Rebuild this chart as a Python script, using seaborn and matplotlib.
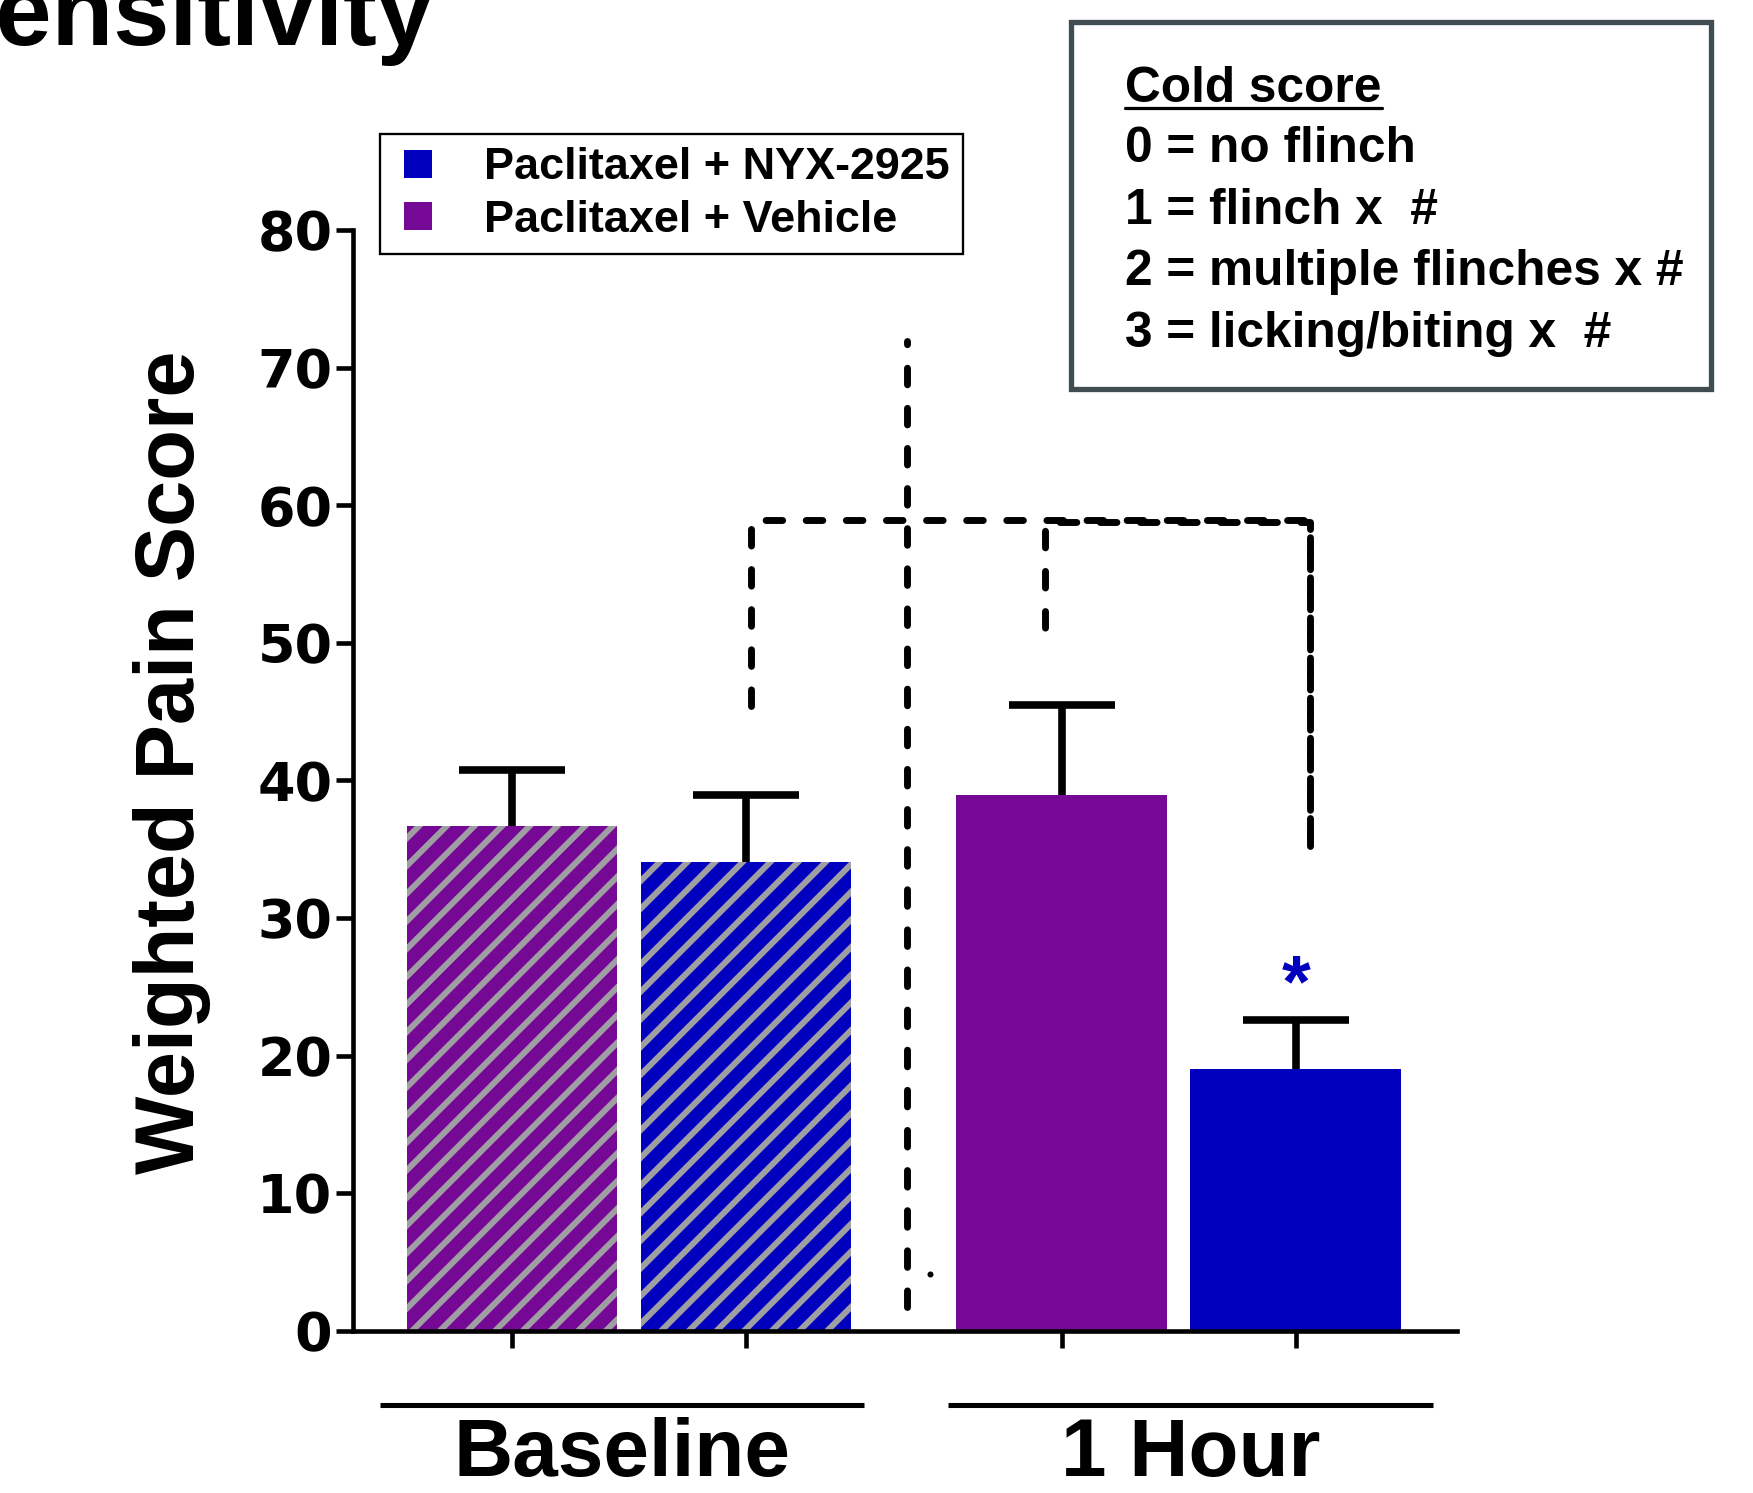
import numpy as np
import pandas as pd
import matplotlib
matplotlib.use("Agg")
import matplotlib.pyplot as plt
import matplotlib.transforms as mtransforms
from matplotlib.patches import Patch, Rectangle
from matplotlib.lines import Line2D
from matplotlib.legend_handler import HandlerPatch
import seaborn as sns

# ---------------- data ----------------
groups = ["Baseline", "Baseline", "1 Hour", "1 Hour"]
treatments = ["Paclitaxel + Vehicle", "Paclitaxel + NYX-2925",
              "Paclitaxel + Vehicle", "Paclitaxel + NYX-2925"]
means = [36.7, 34.1, 38.9, 19.0]
sems = [4.05, 4.8, 6.6, 3.6]
y_ticks = [0, 10, 20, 30, 40, 50, 60, 70, 80]
legend_order = ["Paclitaxel + NYX-2925", "Paclitaxel + Vehicle"]
group_labels = ["Baseline", "1 Hour"]
y_label = "Weighted Pain Score"
title_text = "Sensitivity"
cold_title = "Cold score"
cold_lines = ["0 = no flinch", "1 = flinch x  #",
              "2 = multiple flinches x #", "3 = licking/biting x  #"]
star_text = "*"
star_bar = 3
star_value = 26.0
# dashed annotation lines (data units)
sep_x = 1.69
sep_span = [1.7, 71.9]
bracket_y = 58.9
bracket_x = [1.02, 2.28, 3.41]
bracket_bottom = [45.4, 49.7, 35.2]

# ---------------- style ----------------
W, H, DPI = 1753, 1493, 166
sns.set_theme(style="ticks")
plt.rcParams["font.family"] = ["Liberation Sans", "DejaVu Sans"]
plt.rcParams["hatch.linewidth"] = 2.6
plt.rcParams["text.color"] = "black"

purple = "#760896"
blue = "#0000BE"
hatch_gray = "#9E9EA3"
palette = {"Paclitaxel + Vehicle": purple, "Paclitaxel + NYX-2925": blue}

fig = plt.figure(figsize=(W / DPI, H / DPI), dpi=DPI)
ax = fig.add_axes([353 / W, 1 - 1330.8 / H, (1457 - 353) / W, (1330.8 - 229.9) / H])

gap = 0.35
pos = np.arange(len(means)) + np.array([0, 0, 1, 1]) * gap
df = pd.DataFrame({"pos": pos, "score": means, "treatment": treatments, "group": groups})

sns.barplot(data=df, x="pos", y="score", hue="treatment", palette=palette,
            native_scale=True, dodge=False, width=0.9, errorbar=None,
            legend=False, saturation=1, linewidth=0, ax=ax)

for p in ax.patches:
    cx = p.get_x() + p.get_width() / 2
    i = int(np.argmin(np.abs(pos - cx)))
    p.set_linewidth(0)
    if groups[i] == "Baseline":
        p.set_hatch("//")
        p.set_edgecolor(hatch_gray)
        if hasattr(p, "set_hatch_linewidth"):
            p.set_hatch_linewidth(2.6)

eb = ax.errorbar(pos, means, yerr=[np.zeros(len(sems)), sems], fmt="none",
                 ecolor="black", elinewidth=3.3, capsize=23, capthick=3.3, zorder=3)
# keep only the upper caps (one-sided error bars)
for cap in eb[1]:
    if np.allclose(np.asarray(cap.get_ydata(), dtype=float), means):
        cap.set_visible(False)

ax.set_ylim(0, 80)
ax.set_yticks(y_ticks)
ax.set_xlim(-0.68, 4.04)
ax.set_xticks(pos)
ax.set_xticklabels([])
ax.set_xlabel("")
sns.despine(ax=ax)
for s in ["left", "bottom"]:
    ax.spines[s].set_linewidth(2.0)
    ax.spines[s].set_color("black")
ax.tick_params(axis="y", length=7.4, width=2.0, pad=1.5, labelsize=23.4,
               direction="out", color="black", labelcolor="black")
ax.tick_params(axis="x", length=7.4, width=2.0, direction="out", color="black")
for lab in ax.get_yticklabels():
    lab.set_fontweight("bold")
    lab.set_family("DejaVu Sans")

ax.set_ylabel(y_label, fontsize=36, fontweight="bold", color="black")
ax.yaxis.set_label_coords(-0.1286, 0.516)

# dashed lines
dash_kw = dict(color="black", lw=3.0, linestyle=(0, (2.4, 3.4)),
               dash_capstyle="round", clip_on=False, zorder=4)
ax.plot([sep_x, sep_x], sep_span, **dash_kw)
ax.plot([bracket_x[0], bracket_x[0], bracket_x[2], bracket_x[2]],
        [bracket_bottom[0], bracket_y, bracket_y, bracket_bottom[2]], **dash_kw)
dash_kw2 = dict(dash_kw)
dash_kw2["linestyle"] = (3.0, (2.4, 3.4))
ax.plot([bracket_x[1], bracket_x[1], bracket_x[2], bracket_x[2]],
        [bracket_bottom[1], bracket_y - 0.15, bracket_y - 0.15, bracket_bottom[2]], **dash_kw2)
ax.plot([1.786], [4.1], marker="o", markersize=1.6, color="black", clip_on=False)

# significance star
ax.annotate(star_text, xy=(pos[star_bar], star_value), xytext=(0, -33),
            textcoords="offset pixels", ha="center", va="baseline",
            color=blue, fontsize=32, fontweight="bold")

# legend (square handles placed at the right end of the handle area)
def square_patch(legend, orig_handle, xdescent, ydescent, width, height, fontsize):
    side = 0.62 * fontsize
    return Rectangle((width - side - xdescent, -ydescent + (height - side) / 2),
                     side, side)

handles = [Patch(facecolor=palette[t], edgecolor="none", linewidth=0) for t in legend_order]
leg = ax.legend(handles=handles, labels=legend_order, loc="upper left",
                bbox_to_anchor=(380 / W, 1 - 134 / H), bbox_transform=fig.transFigure,
                frameon=True, fancybox=False, edgecolor="black", framealpha=1,
                borderpad=0.3, handlelength=0.86, handleheight=0.62,
                handletextpad=1.16, labelspacing=0.25, borderaxespad=0,
                labelcolor="black", prop={"weight": "bold", "size": 19.5},
                handler_map={Patch: HandlerPatch(patch_func=square_patch)})
leg.get_frame().set_linewidth(1.0)

# group lines / labels below axis
blend = mtransforms.blended_transform_factory(ax.transData, fig.transFigure)
group_shift = [-0.03, 0.05]
centers = [pos[0:2].mean(), pos[2:4].mean()]
for c, sh, lab in zip(centers, group_shift, group_labels):
    c = c + sh
    ax.plot([c - 1.036, c + 1.036], [1 - 1405 / H] * 2, transform=blend,
            clip_on=False, color="black", lw=2.2, solid_capstyle="butt")
    ax.text(c, 1 - 1476 / H, lab, transform=blend, ha="center", va="baseline",
            fontsize=35.5, fontweight="bold", color="black")

# title fragment (cut off at top-left, as in the original slide)
fig.text(433 / W, 1 - 45 / H, title_text, ha="right", va="baseline",
         fontsize=43.8, fontweight="bold", color="black")

# cold score box
fig.add_artist(Rectangle((1071 / W, 1 - 389 / H), (1711 - 1071) / W, (389 - 22) / H,
                         transform=fig.transFigure, facecolor="white",
                         edgecolor="#3F4D53", linewidth=2.3, zorder=5))
t0 = fig.text(1125 / W, 1 - 102 / H, cold_title, ha="left", va="baseline",
              fontsize=21.5, fontweight="bold", color="black", zorder=6)
baselines = [162, 224, 285, 347]
for b, line in zip(baselines, cold_lines):
    fig.text(1125 / W, 1 - b / H, line, ha="left", va="baseline",
             fontsize=21.5, fontweight="bold", color="black", zorder=6)
fig.canvas.draw()
bb = t0.get_window_extent()
fig.add_artist(Line2D([bb.x0 / W, bb.x1 / W], [1 - 108 / H] * 2,
                      transform=fig.transFigure, color="black", lw=1.4, zorder=6))

fig.savefig("out.png", dpi=DPI)
